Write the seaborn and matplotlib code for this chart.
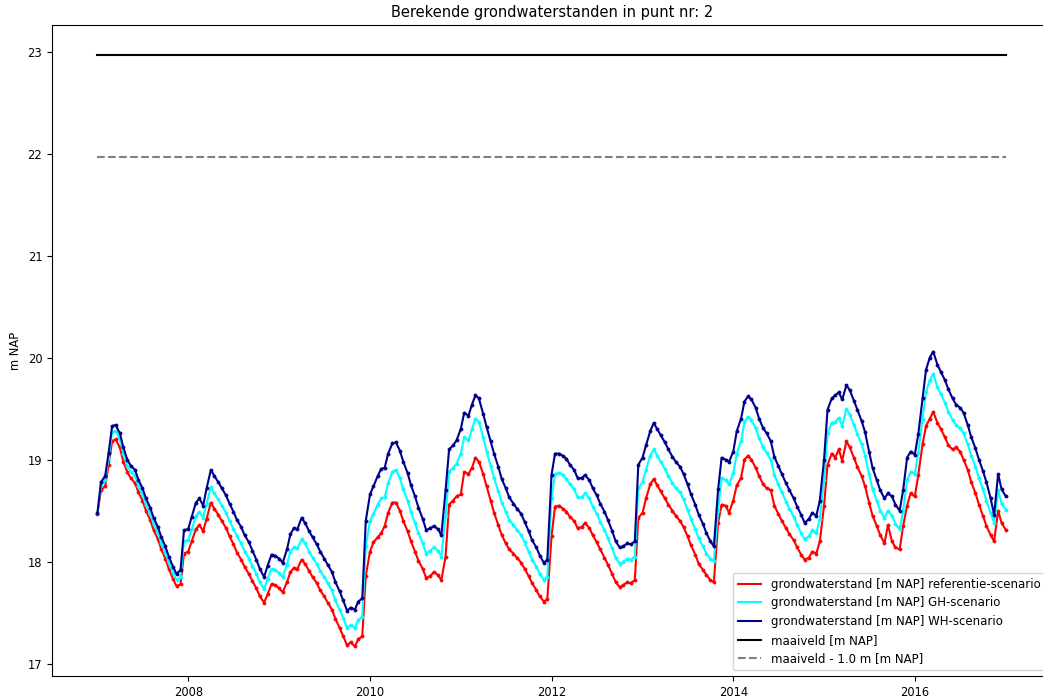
import seaborn as sns
import matplotlib.pyplot as plt
import matplotlib.dates as mdates
from matplotlib.ticker import MultipleLocator
import pandas as pd

# halfmonthly dates (1st and 15th), 2007 - begin 2017
dates = pd.date_range('2007-01-01', '2017-01-01', freq='SMS')

# grondwaterstand referentie-scenario [m NAP]
ref = [
    18.47, 18.70, 18.74, 18.95, 19.18, 19.20, 19.12, 18.98, 18.88, 18.82, 18.77, 18.68, 18.60, 18.50, 18.41, 18.31, 18.22, 18.12, 18.03, 17.93, 17.83, 17.76, 17.78, 18.08,
    18.10, 18.20, 18.32, 18.36, 18.30, 18.42, 18.58, 18.52, 18.46, 18.40, 18.33, 18.25, 18.17, 18.09, 18.02, 17.95, 17.88, 17.81, 17.74, 17.66, 17.60, 17.68, 17.78, 17.77,
    17.74, 17.70, 17.80, 17.90, 17.94, 17.93, 18.02, 17.98, 17.91, 17.85, 17.79, 17.72, 17.66, 17.60, 17.53, 17.44, 17.35, 17.27, 17.18, 17.21, 17.17, 17.24, 17.27, 17.86,
    18.10, 18.19, 18.24, 18.28, 18.35, 18.48, 18.58, 18.58, 18.50, 18.40, 18.30, 18.20, 18.10, 18.01, 17.93, 17.84, 17.86, 17.90, 17.87, 17.82, 18.05, 18.56, 18.60, 18.64,
    18.66, 18.88, 18.86, 18.92, 19.02, 18.98, 18.86, 18.74, 18.60, 18.48, 18.36, 18.26, 18.18, 18.12, 18.08, 18.04, 17.99, 17.93, 17.86, 17.79, 17.72, 17.66, 17.61, 17.63,
    18.25, 18.54, 18.55, 18.52, 18.49, 18.44, 18.40, 18.33, 18.34, 18.38, 18.33, 18.26, 18.19, 18.12, 18.04, 17.97, 17.88, 17.80, 17.75, 17.77, 17.80, 17.79, 17.82, 18.43,
    18.48, 18.62, 18.76, 18.81, 18.75, 18.69, 18.62, 18.56, 18.50, 18.45, 18.40, 18.34, 18.25, 18.16, 18.07, 17.98, 17.92, 17.87, 17.82, 17.80, 18.38, 18.56, 18.55, 18.48,
    18.60, 18.75, 18.82, 19.00, 19.04, 19.00, 18.92, 18.84, 18.76, 18.72, 18.70, 18.55, 18.47, 18.40, 18.33, 18.27, 18.21, 18.14, 18.07, 18.02, 18.04, 18.10, 18.08, 18.20,
    18.55, 18.95, 19.06, 19.02, 19.10, 18.99, 19.18, 19.12, 19.02, 18.93, 18.84, 18.74, 18.58, 18.45, 18.35, 18.26, 18.18, 18.36, 18.20, 18.14, 18.12, 18.35, 18.55, 18.67,
    18.64, 18.85, 19.15, 19.33, 19.40, 19.47, 19.36, 19.30, 19.22, 19.14, 19.10, 19.12, 19.08, 19.00, 18.90, 18.78, 18.67, 18.56, 18.45, 18.35, 18.26, 18.20, 18.50, 18.38,
    18.31,
]

# grondwaterstand GH-scenario [m NAP]
gh = [
    18.48, 18.75, 18.80, 19.02, 19.27, 19.28, 19.20, 19.06, 18.94, 18.88, 18.84, 18.74, 18.66, 18.56, 18.47, 18.37, 18.28, 18.18, 18.09, 17.99, 17.89, 17.82, 17.85, 18.20,
    18.21, 18.32, 18.45, 18.49, 18.43, 18.57, 18.73, 18.67, 18.61, 18.55, 18.48, 18.40, 18.32, 18.25, 18.18, 18.10, 18.03, 17.96, 17.88, 17.80, 17.73, 17.83, 17.93, 17.92,
    17.89, 17.85, 17.97, 18.10, 18.14, 18.13, 18.22, 18.18, 18.10, 18.04, 17.98, 17.91, 17.85, 17.79, 17.72, 17.62, 17.53, 17.45, 17.35, 17.38, 17.35, 17.43, 17.46, 18.15,
    18.40, 18.47, 18.56, 18.62, 18.63, 18.77, 18.88, 18.90, 18.82, 18.71, 18.60, 18.49, 18.38, 18.28, 18.18, 18.08, 18.11, 18.14, 18.11, 18.05, 18.45, 18.88, 18.92, 18.96,
    19.06, 19.22, 19.19, 19.30, 19.40, 19.37, 19.22, 19.08, 18.94, 18.82, 18.69, 18.58, 18.49, 18.41, 18.36, 18.31, 18.26, 18.19, 18.10, 18.02, 17.95, 17.88, 17.82, 17.85,
    18.62, 18.86, 18.87, 18.85, 18.81, 18.76, 18.71, 18.63, 18.63, 18.67, 18.62, 18.54, 18.47, 18.39, 18.31, 18.23, 18.13, 18.04, 17.98, 18.00, 18.03, 18.02, 18.05, 18.72,
    18.78, 18.90, 19.04, 19.10, 19.04, 18.98, 18.91, 18.84, 18.77, 18.72, 18.68, 18.61, 18.51, 18.42, 18.32, 18.23, 18.15, 18.08, 18.03, 18.01, 18.50, 18.82, 18.80, 18.76,
    18.87, 19.06, 19.18, 19.37, 19.42, 19.39, 19.31, 19.21, 19.12, 19.07, 19.00, 18.85, 18.76, 18.68, 18.59, 18.52, 18.44, 18.36, 18.28, 18.22, 18.25, 18.31, 18.28, 18.42,
    18.80, 19.26, 19.36, 19.37, 19.41, 19.33, 19.50, 19.44, 19.34, 19.25, 19.15, 19.04, 18.86, 18.71, 18.60, 18.50, 18.43, 18.50, 18.45, 18.37, 18.32, 18.50, 18.80, 18.88,
    18.86, 19.07, 19.40, 19.66, 19.78, 19.84, 19.71, 19.64, 19.56, 19.47, 19.39, 19.34, 19.31, 19.26, 19.15, 19.04, 18.93, 18.82, 18.71, 18.60, 18.48, 18.38, 18.70, 18.57,
    18.51,
]

# grondwaterstand WH-scenario [m NAP]
wh = [
    18.48, 18.78, 18.84, 19.07, 19.33, 19.34, 19.26, 19.12, 19.00, 18.94, 18.90, 18.80, 18.72, 18.62, 18.53, 18.43, 18.34, 18.24, 18.15, 18.05, 17.95, 17.88, 17.92, 18.31,
    18.32, 18.44, 18.58, 18.62, 18.55, 18.72, 18.90, 18.84, 18.78, 18.72, 18.65, 18.57, 18.49, 18.41, 18.34, 18.26, 18.19, 18.11, 18.02, 17.93, 17.85, 17.96, 18.07, 18.06,
    18.03, 17.99, 18.12, 18.27, 18.33, 18.32, 18.43, 18.38, 18.30, 18.24, 18.17, 18.10, 18.03, 17.97, 17.90, 17.80, 17.71, 17.62, 17.52, 17.55, 17.53, 17.61, 17.64, 18.40,
    18.66, 18.74, 18.84, 18.91, 18.92, 19.06, 19.16, 19.17, 19.09, 18.98, 18.87, 18.75, 18.64, 18.53, 18.42, 18.31, 18.33, 18.35, 18.32, 18.26, 18.70, 19.10, 19.14, 19.19,
    19.30, 19.46, 19.43, 19.54, 19.63, 19.60, 19.45, 19.32, 19.18, 19.06, 18.93, 18.81, 18.72, 18.63, 18.57, 18.52, 18.47, 18.39, 18.30, 18.21, 18.14, 18.06, 17.99, 18.02,
    18.85, 19.06, 19.06, 19.04, 19.01, 18.95, 18.90, 18.82, 18.82, 18.85, 18.80, 18.72, 18.65, 18.57, 18.49, 18.41, 18.30, 18.20, 18.14, 18.15, 18.18, 18.17, 18.20, 18.95,
    19.02, 19.14, 19.28, 19.36, 19.30, 19.24, 19.17, 19.10, 19.03, 18.98, 18.93, 18.86, 18.76, 18.66, 18.56, 18.46, 18.37, 18.28, 18.20, 18.15, 18.71, 19.02, 19.00, 18.98,
    19.08, 19.28, 19.40, 19.57, 19.62, 19.59, 19.51, 19.40, 19.31, 19.26, 19.18, 19.03, 18.94, 18.86, 18.77, 18.70, 18.62, 18.54, 18.46, 18.38, 18.42, 18.48, 18.45, 18.60,
    19.00, 19.49, 19.60, 19.63, 19.66, 19.59, 19.73, 19.68, 19.58, 19.49, 19.38, 19.27, 19.08, 18.92, 18.80, 18.70, 18.62, 18.67, 18.64, 18.56, 18.50, 18.70, 19.02, 19.08,
    19.05, 19.25, 19.60, 19.88, 20.00, 20.06, 19.93, 19.86, 19.78, 19.69, 19.60, 19.54, 19.51, 19.46, 19.34, 19.22, 19.11, 19.00, 18.89, 18.78, 18.62, 18.46, 18.86, 18.71,
    18.64,
]

maaiveld = 22.97
maaiveld_min1 = 21.97

fig = plt.figure(figsize=(10.43, 6.99), dpi=100)
# axes loopt rechts iets buiten het plaatje (zoals in het origineel)
ax = fig.add_axes([0.0499, 0.0329, 0.958, 0.9313])

kw = dict(marker='.', markersize=4.5, markeredgewidth=0.5, linewidth=1.5, ax=ax)
sns.lineplot(x=dates, y=ref, color='red', markeredgecolor='red',
             label='grondwaterstand [m NAP] referentie-scenario', **kw)
sns.lineplot(x=dates, y=gh, color='cyan', markeredgecolor='cyan',
             label='grondwaterstand [m NAP] GH-scenario', **kw)
sns.lineplot(x=dates, y=wh, color='darkblue', markeredgecolor='darkblue',
             label='grondwaterstand [m NAP] WH-scenario', **kw)

ends = [dates[0], dates[-1]]
sns.lineplot(x=ends, y=[maaiveld, maaiveld], color='black', linewidth=1.5,
             label='maaiveld [m NAP]', ax=ax)
sns.lineplot(x=ends, y=[maaiveld_min1, maaiveld_min1], color='grey', linewidth=1.5,
             linestyle='--', label='maaiveld - 1.0 m [m NAP]', ax=ax)

ax.xaxis.set_major_locator(mdates.YearLocator(2))
ax.xaxis.set_major_formatter(mdates.DateFormatter('%Y'))
ax.yaxis.set_major_locator(MultipleLocator(1))
ax.tick_params(labelsize=8.3)

ax.set_title('Berekende grondwaterstanden in punt nr: 2', fontsize=10.5)
ax.set_ylabel('m NAP', fontsize=8.3)
ax.set_xlabel('')
leg = ax.legend(loc='lower right', fontsize=8.5, labelspacing=0.48)
# alleen lijnen in de legenda, geen markers
for h in leg.get_lines():
    h.set_marker('')

plt.savefig('out.png', dpi=100)
